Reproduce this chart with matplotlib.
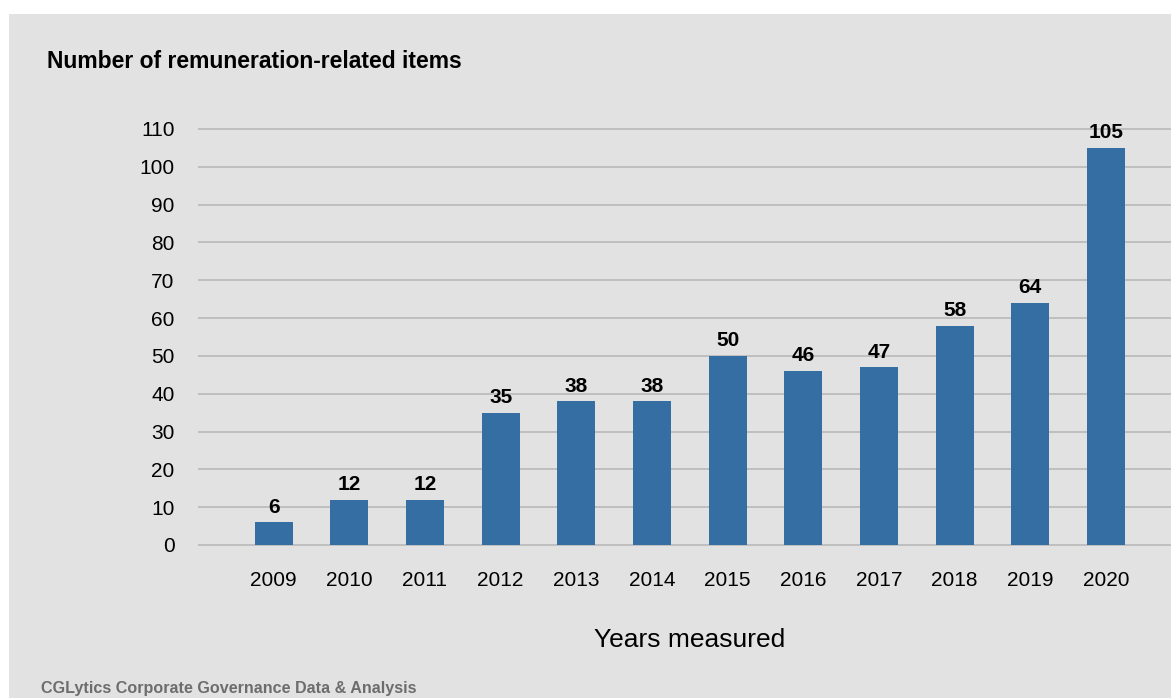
import matplotlib.pyplot as plt
from matplotlib.patches import Rectangle

# ────────────────────────────────
# Data
# ────────────────────────────────
years = ["2009", "2010", "2011", "2012", "2013", "2014",
         "2015", "2016", "2017", "2018", "2019", "2020"]
items = [6, 12, 12, 35, 38, 38, 50, 46, 47, 58, 64, 105]
y_ticks = [0, 10, 20, 30, 40, 50, 60, 70, 80, 90, 100, 110]

BG = "#e2e2e2"
BAR = "#346ea3"
GRID = "#bcbcbc"

plt.rcParams["font.family"] = ["Liberation Sans", "DejaVu Sans"]

W, H = 1171, 698
fig = plt.figure(figsize=(W / 100, H / 100), dpi=100)
fig.patch.set_facecolor("white")

# gray panel with thin white margin on top and left
fig.add_artist(Rectangle((9 / W, 0), 1 - 9 / W, (H - 14) / H,
                         transform=fig.transFigure, facecolor=BG,
                         edgecolor="none", zorder=-5))

# axes placed so that 0 -> y=545px and 110 -> y=129px
ppu = (545 - 129) / 110
ax_bot = (H - (545 + ppu)) / H
ax_top = (H - (129 - ppu)) / H
ax = fig.add_axes([198 / W, ax_bot, 1 - 198 / W, ax_top - ax_bot])
ax.set_facecolor("none")
ax.set_zorder(2)

x = list(range(len(years)))
bars = ax.bar(x, items, width=0.5, color=BAR, zorder=3)

for xi, v in zip(x, items):
    ax.text(xi, v + 1.5, str(v), ha="center", va="bottom",
            fontsize=15, fontweight="bold", color="black", zorder=4)

ax.set_ylim(-1, 111)
ax.set_xlim(-1, 11.86)
ax.set_yticks(y_ticks)
ax.set_xticks(x)
ax.set_xticklabels(years)
ax.yaxis.grid(True, color=GRID, linewidth=1.3)
ax.xaxis.grid(False)
ax.set_axisbelow(True)
ax.tick_params(axis="both", length=0, labelsize=15, colors="black")
ax.tick_params(axis="y", pad=17)
ax.tick_params(axis="x", pad=16)
for s in ax.spines.values():
    s.set_visible(False)

fig.text(47 / W, 1 - 62 / H, "Number of remuneration-related items",
         ha="left", va="center", fontsize=16.5, fontweight="bold")
fig.text(690 / W, 1 - 640 / H, "Years measured",
         ha="center", va="center", fontsize=19)
fig.text(41 / W, 1 - 688 / H, "CGLytics Corporate Governance Data & Analysis",
         ha="left", va="center", fontsize=11.6, fontweight="bold",
         color="#6d6d6d")

fig.savefig("out.png", dpi=100, facecolor=fig.get_facecolor())
